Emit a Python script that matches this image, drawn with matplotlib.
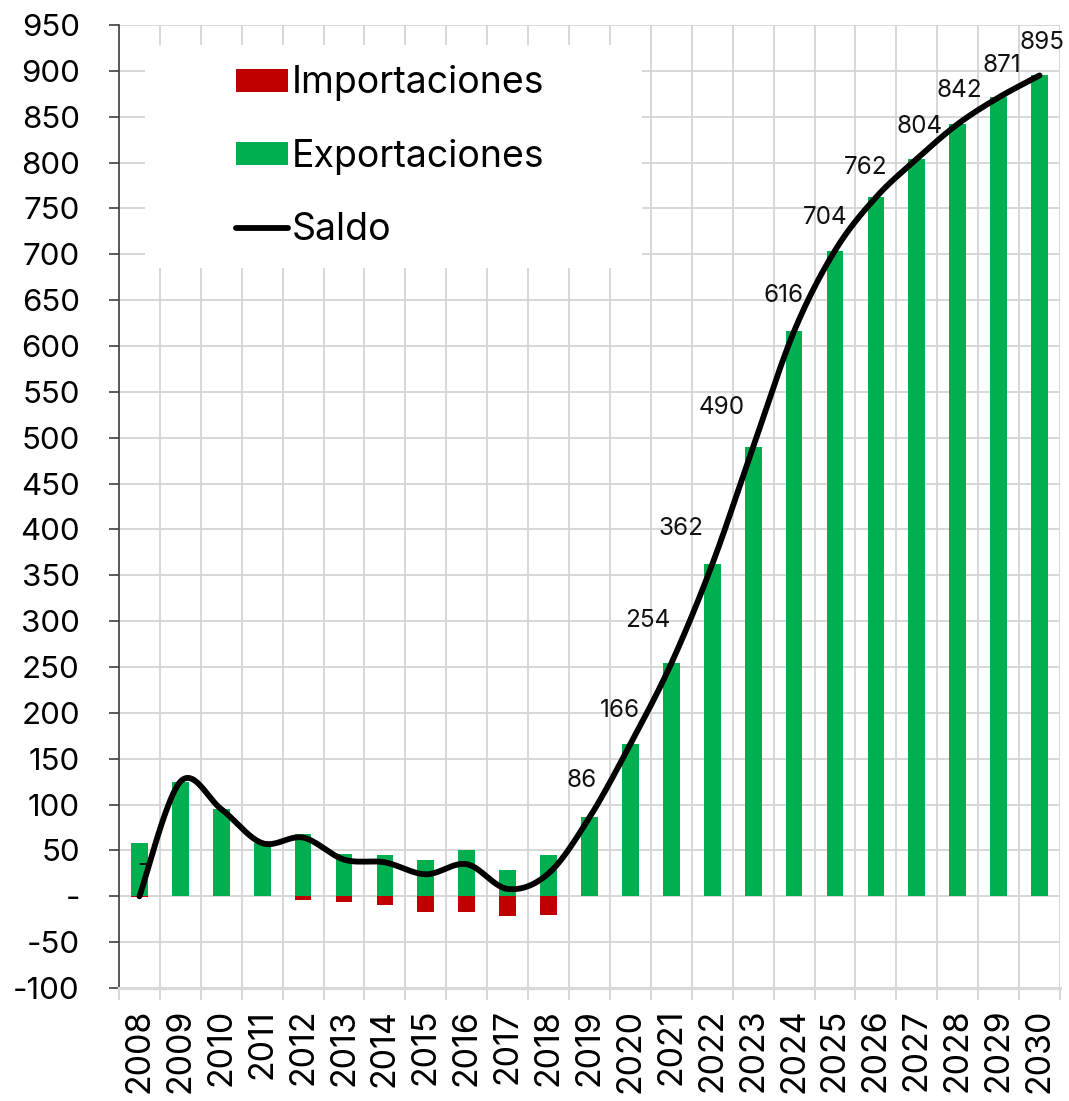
import numpy as np
import matplotlib
matplotlib.use('Agg')
import matplotlib.pyplot as plt
from matplotlib.patches import Rectangle, Patch
from matplotlib.lines import Line2D
from matplotlib.ticker import FixedLocator, FuncFormatter

# ---------------- data ----------------
years = [str(y) for y in range(2008, 2031)]
exportaciones = [58, 125, 95, 58, 68, 46, 45, 40, 51, 29, 45,
                 86, 166, 254, 362, 490, 616, 704, 762, 804, 842, 871, 895]
importaciones = [-1, 0, 0, 0, -4, -6, -9, -17, -17, -21, -20,
                 0, 0, 0, 0, 0, 0, 0, 0, 0, 0, 0, 0]
saldo = [0, 125, 95, 58, 64, 40, 37, 24, 35, 8, 25,
         86, 166, 254, 362, 490, 616, 704, 762, 804, 842, 871, 895]
labeled_years = ['2008'] + [str(y) for y in range(2019, 2031)]
y_ticks = list(range(-100, 951, 50))

# label offsets (pixels, right / up) - placement style only
label_offsets_px = {
    '2008': (3, 31), '2019': (-8, 37), '2020': (-11, 34), '2021': (-24, 43),
    '2022': (-31, 36), '2023': (-31, 39), '2024': (-11, 36), '2025': (-10, 33),
    '2026': (-10, 30), '2027': (3, 32), '2028': (2, 34), '2029': (3, 32),
    '2030': (2, 33),
}

GREEN = '#00B050'
RED = '#C00000'
GRID = '#d4d4d4'

plt.rcParams['font.family'] = ['Inter', 'DejaVu Sans']

W, H = 1069, 1101
fig = plt.figure(figsize=(W / 100, H / 100), dpi=100)
ax = fig.add_axes([119 / W, 1 - 988 / H, 941 / W, 963 / H])

x = np.arange(len(years))

ax.bar(x, exportaciones, width=0.41, color=GREEN, zorder=3, label='Exportaciones')
ax.bar(x, importaciones, width=0.41, color=RED, zorder=3, label='Importaciones')

# Excel-style smoothed line (Bezier through the data points)
P = np.column_stack([x, np.array(saldo, dtype=float)])
n = len(P)
curve = []
for i in range(n - 1):
    p0 = P[i - 1] if i > 0 else P[i]
    p1 = P[i]
    p2 = P[i + 1]
    p3 = P[i + 2] if i + 2 < n else P[i + 1]
    c1 = p1 + (p2 - p0) / 6.0
    c2 = p2 - (p3 - p1) / 6.0
    t = np.linspace(0, 1, 40)[:, None]
    seg = ((1 - t) ** 3) * p1 + 3 * ((1 - t) ** 2) * t * c1 + 3 * (1 - t) * t ** 2 * c2 + t ** 3 * p2
    curve.append(seg if i == 0 else seg[1:])
curve = np.vstack(curve)
ax.plot(curve[:, 0], curve[:, 1], color='black', lw=4.2, zorder=4,
        solid_capstyle='round', solid_joinstyle='round')

# data labels
for yr, (dx, dy) in label_offsets_px.items():
    i = years.index(yr)
    v = saldo[i]
    txt = '-' if v == 0 else str(v)
    ax.annotate(txt, xy=(i, v), xytext=(dx * 0.72, dy * 0.72), textcoords='offset points',
                ha='center', va='center', fontsize=17.5, color='#111111', zorder=5)

# axes
ax.set_xlim(-0.5, len(years) - 0.5)
ax.set_ylim(-100, 950)
ax.yaxis.set_major_locator(FixedLocator(y_ticks))
ax.yaxis.set_major_formatter(FuncFormatter(lambda v, p: '-' if v == 0 else f'{int(v)}'))
ax.set_xticks(x)
ax.set_xticklabels(years, rotation=90)
ax.set_xticks(np.arange(-0.5, len(years), 1.0), minor=True)

ax.set_axisbelow(True)
ax.grid(axis='y', which='major', color=GRID, lw=1.3)
ax.grid(axis='x', which='minor', color=GRID, lw=1.3)
ax.grid(axis='x', which='major', visible=False)

ax.tick_params(axis='y', which='major', labelsize=22.5, length=7.2, width=1.2,
               color='#404040', pad=21, direction='out')
ax.tick_params(axis='x', which='major', labelsize=24.5, length=0, pad=15)
ax.tick_params(axis='x', which='minor', length=8.6, width=1.3, color=GRID, direction='out')

for s in ['top', 'right']:
    ax.spines[s].set_visible(False)
ax.spines['left'].set_color('#404040')
ax.spines['left'].set_linewidth(1.2)
ax.spines['bottom'].set_color('#d9d9d9')
ax.spines['bottom'].set_linewidth(2.2)

# white legend background area
ax.add_patch(Rectangle((0.0276, 0.7477), 0.5558 - 0.0276, 0.9792 - 0.7477,
                       transform=ax.transAxes, facecolor='white', edgecolor='none', zorder=1))

handles = [Patch(facecolor=RED, edgecolor='none'),
           Patch(facecolor=GREEN, edgecolor='none'),
           Line2D([0], [0], color='black', lw=4.2, solid_capstyle='round')]
labels = ['Importaciones', 'Exportaciones', 'Saldo']
leg = ax.legend(handles, labels, loc='upper left', bbox_to_anchor=(0.1243, 0.958),
                frameon=False, fontsize=27, handlelength=1.39, handleheight=0.56,
                handletextpad=0.11, labelspacing=1.0, borderpad=0, borderaxespad=0)
leg.set_zorder(6)

fig.savefig('out.png', dpi=100)
